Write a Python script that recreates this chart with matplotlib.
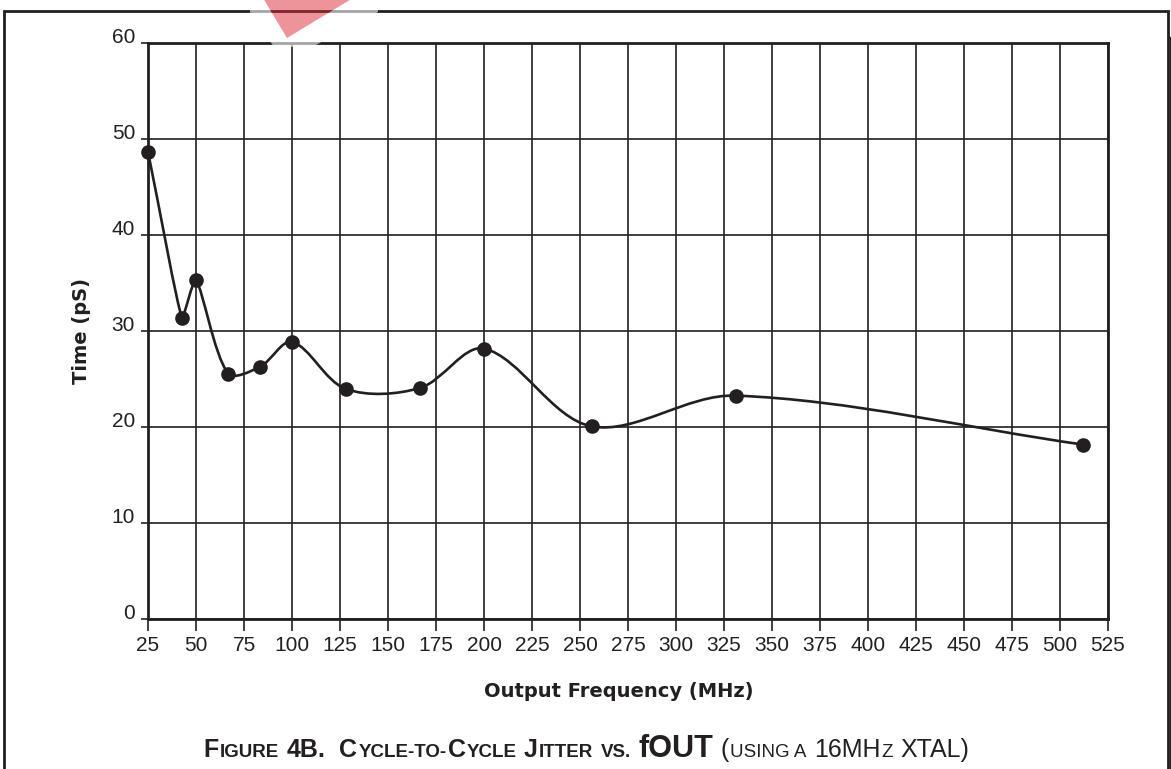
import numpy as np
import matplotlib
matplotlib.use('Agg')
import matplotlib.pyplot as plt
from matplotlib.path import Path
from matplotlib.patches import PathPatch, Polygon
from matplotlib import font_manager

# values
freq = [25, 42.7, 50, 66.7, 83.3, 100, 128, 166.7, 200, 256, 331, 512]
jitter = [48.7, 31.4, 35.3, 25.6, 26.3, 28.9, 24.0, 24.1, 28.2, 20.1, 23.3, 18.2]
xticks = list(range(25, 526, 25))
yticks = list(range(0, 61, 10))

INK = '#231f20'
W, H = 1171, 769


def have_font(name):
    try:
        font_manager.findfont(name, fallback_to_default=False)
        return True
    except Exception:
        return False


CAP_FONT = 'Liberation Sans Narrow' if have_font('Liberation Sans Narrow') else 'Liberation Sans'


def smooth_path(ax, xs, ys, k=1 / 3.):
    # bezier through the points, worked out in screen space;
    # handles shrink at sharp corners so those stay nearly straight
    pts = ax.transData.transform(np.column_stack([xs, ys]))
    n = len(pts)
    tang = []
    scale = []
    for i in range(n):
        d = pts[min(i + 1, n - 1)] - pts[max(i - 1, 0)]
        tang.append(d / np.hypot(*d))
        if 0 < i < n - 1:
            a = pts[i] - pts[i - 1]
            b = pts[i + 1] - pts[i]
            cosang = np.dot(a, b) / (np.hypot(*a) * np.hypot(*b))
            turn = np.arccos(np.clip(cosang, -1, 1))
            scale.append(np.cos(turn / 2))
        else:
            scale.append(1.0)
    verts = [pts[0]]
    codes = [Path.MOVETO]
    for i in range(n - 1):
        seg = np.hypot(*(pts[i + 1] - pts[i]))
        verts += [pts[i] + tang[i] * seg * k * scale[i],
                  pts[i + 1] - tang[i + 1] * seg * k * scale[i + 1],
                  pts[i + 1]]
        codes += [Path.CURVE4] * 3
    verts = ax.transData.inverted().transform(np.array(verts))
    return Path(verts, codes)


fig = plt.figure(figsize=(W / 100, H / 100), dpi=100, facecolor='white')

# page frame
bg = fig.add_axes([0, 0, 1, 1], zorder=-1)
bg.set_xlim(0, W)
bg.set_ylim(H, 0)
bg.axis('off')
bg.plot([4, 4, 1168, 1168], [H + 20, 10.5, 10.5, H + 20], color=INK, lw=2, solid_joinstyle='miter')
bg.plot([1170.5, 1170.5], [38, H + 20], color=INK, lw=2.5)

ax = fig.add_axes([148 / W, 1 - 619.3 / H, 960 / W, 576 / H])
ax.set_facecolor('none')
ax.set_xlim(25, 525)
ax.set_ylim(0, 60)
ax.set_xticks(xticks, labels=[str(v) for v in xticks])
ax.set_yticks(yticks, labels=[str(v) for v in yticks], va='baseline')
for lbl in ax.get_xticklabels() + ax.get_yticklabels():
    lbl.set_fontfamily('Liberation Sans')
    lbl.set_fontsize(15)
    lbl.set_color(INK)
ax.tick_params(axis='x', direction='out', length=8.6, width=1.2, color=INK, pad=3.4)
ax.tick_params(axis='y', direction='out', length=5, width=1.2, color=INK, pad=4.3)
ax.grid(True, color=INK, lw=1.2)
ax.set_axisbelow(True)
for sp in ax.spines.values():
    sp.set_linewidth(2)
    sp.set_color(INK)

ax.set_xlabel('Output Frequency (MHz)', fontfamily='DejaVu Sans', fontweight='bold',
              fontsize=14, color=INK)
ax.xaxis.set_label_coords(0.49, -0.108)
ax.set_ylabel('Time (pS)', fontfamily='DejaVu Sans', fontweight='bold', fontsize=14, color=INK)
ax.yaxis.set_label_coords(-0.0595, 0.5)

ax.add_patch(PathPatch(smooth_path(ax, freq, jitter), fc='none', ec=INK, lw=1.9,
                       clip_on=False, zorder=3))
ax.plot(freq, jitter, 'o', ms=9.5, color=INK, clip_on=False, zorder=4)

# overlay: caption and the red corner mark
top = fig.add_axes([0, 0, 1, 1], zorder=10)
top.set_xlim(0, W)
top.set_ylim(H, 0)
top.axis('off')
top.patch.set_alpha(0)

L, S, X = 18, 13.5, 22
pieces = [
    ('F', L, 'bold', 0), ('IGURE', S, 'bold', 1), ('4B.', L, 'bold', 2),
    ('C', L, 'bold', 0), ('YCLE-TO-', S, 'bold', 0), ('C', L, 'bold', 0), ('YCLE', S, 'bold', 1),
    ('J', L, 'bold', 0), ('ITTER', S, 'bold', 1), ('VS.', S, 'bold', 1),
    ('fOUT', X, 'bold', 1), ('(', L, 'normal', 0), ('USING A', S, 'normal', 1),
    ('16MH', L, 'normal', 0), ('Z', S, 'normal', 1), ('XTAL)', L, 'normal', 0),
]
renderer = fig.canvas.get_renderer()
texts = []
widths = []
gaps = []
for txt, size, weight, gap in pieces:
    t = top.text(0, 757, txt, fontsize=size, fontweight=weight, fontfamily=CAP_FONT,
                 color=INK, ha='left', va='baseline')
    texts.append(t)
    widths.append(t.get_window_extent(renderer).width + 1.0)
    gaps.append(gap * L * 100 / 72 * 0.26)
total = sum(widths) + sum(gaps[:-1])
x = 587 - total / 2
for t, w, g in zip(texts, widths, gaps):
    t.set_x(x)
    x += w + g

halo = Path(np.array([[250, -5], [378, -5], [378, 12], [312, 47], [274, 47], [250, 12], [250, -5],
                      [263, -2], [287, 38], [353, -2], [263, -2]]),
            [Path.MOVETO] + [Path.LINETO] * 5 + [Path.CLOSEPOLY] + [Path.MOVETO] + [Path.LINETO] * 2 + [Path.CLOSEPOLY])
top.add_patch(PathPatch(halo, fc='white', ec='none', alpha=0.6))
top.add_patch(Polygon([[263, -2], [353, -2], [287, 38]], closed=True, fc='#dc2837', ec='none', alpha=0.5))

fig.savefig('out.png', dpi=100, facecolor='white')
